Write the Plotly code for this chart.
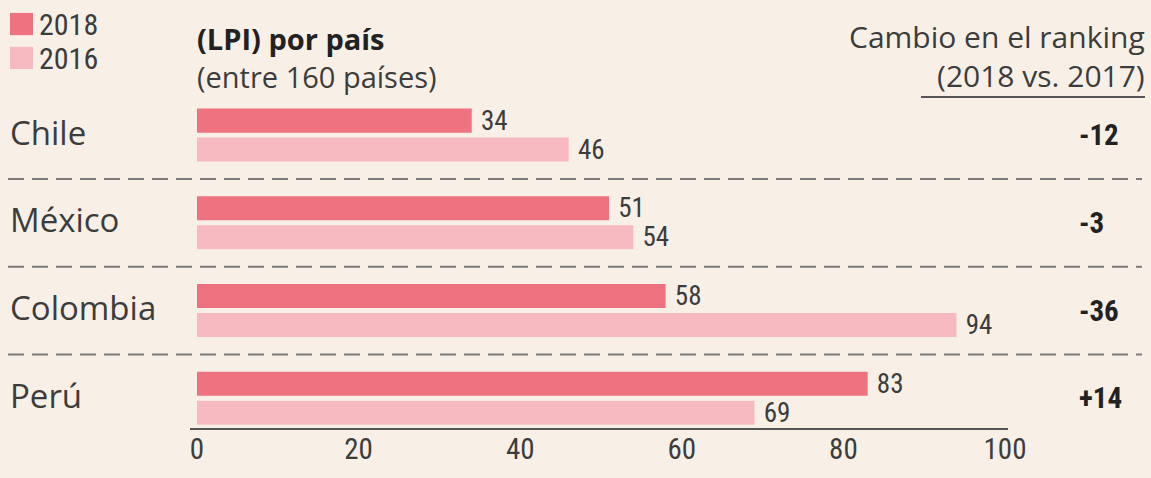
import plotly.graph_objects as go

countries = ["Chile", "México", "Colombia", "Perú"]
lpi_2018 = [34, 51, 58, 83]
lpi_2016 = [46, 54, 94, 69]
ranking_change = ["-12", "-3", "-36", "+14"]
tick_vals = [0, 20, 40, 60, 80, 100]

BG = "#f8f0e7"
C2018 = "#ee727f"
C2016 = "#f7bac1"
TXT = "#3c3c3c"
NARROW = "Liberation Sans Narrow, Arial Narrow, Roboto Condensed, sans-serif"
SANS = "Open Sans, Noto Sans, sans-serif"

L, R, T, B = 190, 143, 100, 38
W, H = 1151, 478
PW, PH = W - L - R, H - T - B

def px(xp):
    return (xp - L) / PW

def py(yp):
    return (H - B - yp) / PH

fig = go.Figure()
fig.add_trace(go.Bar(
    y=countries, x=lpi_2018, orientation="h", name="2018",
    marker=dict(color=C2018, line=dict(width=0)),
    text=["\u00a0" + str(v) for v in lpi_2018], textposition="outside",
    textfont=dict(family=NARROW, size=27, color=TXT),
    cliponaxis=False, constraintext="none",
))
fig.add_trace(go.Bar(
    y=countries, x=lpi_2016, orientation="h", name="2016",
    marker=dict(color=C2016, line=dict(width=0)),
    text=["\u00a0" + str(v) for v in lpi_2016], textposition="outside",
    textfont=dict(family=NARROW, size=27, color=TXT),
    cliponaxis=False, constraintext="none",
))

shapes = []
# dashed separators
for i in range(len(countries) - 1):
    shapes.append(dict(type="line", xref="paper", yref="y",
                       x0=px(8), x1=px(1142), y0=i + 0.5, y1=i + 0.5,
                       line=dict(color="#7a7a7a", width=2, dash="16px,8px")))
# axis line
shapes.append(dict(type="line", xref="paper", yref="paper",
                   x0=0, x1=1, y0=0, y1=0, line=dict(color="#555555", width=2)))
# legend squares
shapes.append(dict(type="rect", xref="paper", yref="paper",
                   x0=px(10), x1=px(33), y0=py(33), y1=py(10),
                   fillcolor=C2018, line=dict(width=0)))
shapes.append(dict(type="rect", xref="paper", yref="paper",
                   x0=px(10), x1=px(33), y0=py(68), y1=py(45),
                   fillcolor=C2016, line=dict(width=0)))
# underline of right header
shapes.append(dict(type="line", xref="paper", yref="paper",
                   x0=px(921), x1=px(1145), y0=py(97), y1=py(97),
                   line=dict(color="#555555", width=2)))

annotations = []
for i, c in enumerate(countries):
    annotations.append(dict(x=px(8), y=i, xref="paper", yref="y", text=c,
                            xanchor="left", yanchor="middle", showarrow=False,
                            yshift=3,
                            font=dict(family=SANS, size=33, color=TXT)))
    annotations.append(dict(x=px(1077), y=i, xref="paper", yref="y",
                            text="<b>" + ranking_change[i] + "</b>",
                            xanchor="left", yanchor="middle", showarrow=False,
                            font=dict(family=NARROW, size=29, color="#222222")))

annotations += [
    dict(x=px(37), y=py(22), xref="paper", yref="paper", text="2018",
         xanchor="left", yanchor="middle", showarrow=False,
         font=dict(family=NARROW, size=30, color=TXT)),
    dict(x=px(37), y=py(57), xref="paper", yref="paper", text="2016",
         xanchor="left", yanchor="middle", showarrow=False,
         font=dict(family=NARROW, size=30, color=TXT)),
    dict(x=px(195), y=py(56), xref="paper", yref="paper",
         text="<b><span style='color:#222222'>(LPI) por país</span></b><br>(entre 160 países)",
         xanchor="left", yanchor="middle", showarrow=False, align="left",
         font=dict(family=SANS, size=29, color=TXT)),
    dict(x=px(1147), y=py(55), xref="paper", yref="paper",
         text="Cambio en el ranking<br>(2018 vs. 2017)",
         xanchor="right", yanchor="middle", showarrow=False, align="right",
         font=dict(family=SANS, size=30, color=TXT)),
]

fig.update_layout(
    width=W, height=H,
    margin=dict(l=L, r=R, t=T, b=B, pad=0),
    paper_bgcolor=BG, plot_bgcolor=BG,
    barmode="group", bargap=0.34, bargroupgap=0.17,
    showlegend=False,
    shapes=shapes, annotations=annotations,
    xaxis=dict(range=[-0.866, 100.37], tickvals=tick_vals,
               ticktext=[str(v) for v in tick_vals], showgrid=False,
               zeroline=False, showline=False, ticks="",
               tickfont=dict(family=NARROW, size=29, color=TXT)),
    yaxis=dict(categoryorder="array", categoryarray=countries,
               range=[3.35, -0.40], showticklabels=False, showgrid=False,
               zeroline=False, showline=False, ticks=""),
)

fig.write_html("out.html", config={"displayModeBar": False},
               post_script="document.body.style.margin='0';document.body.style.overflow='hidden';")
